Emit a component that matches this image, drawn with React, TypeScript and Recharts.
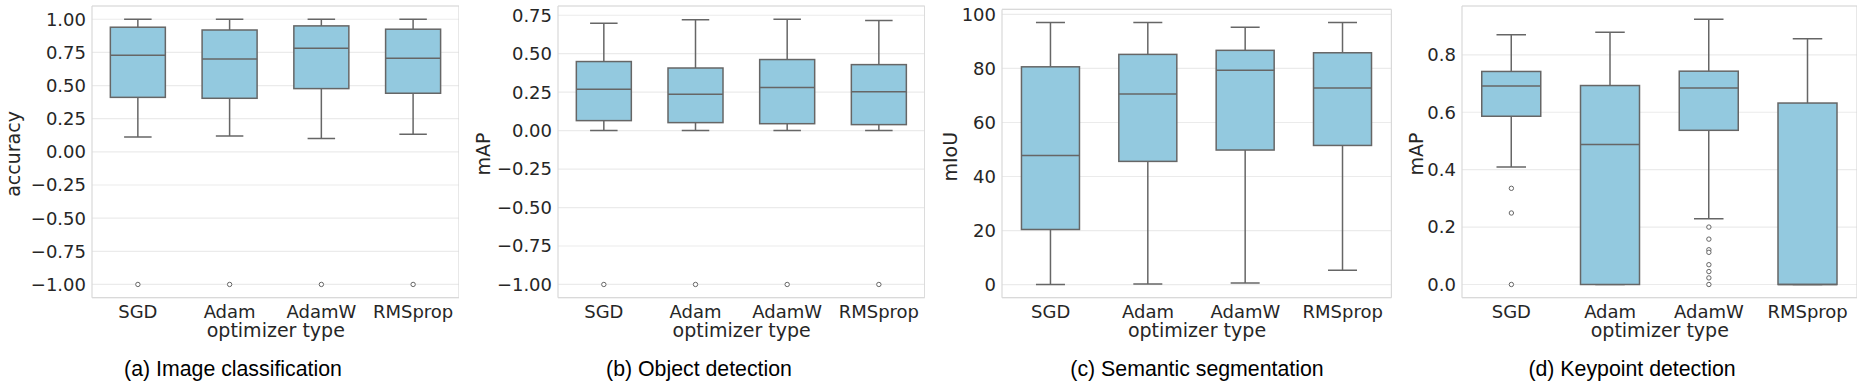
import React from "react";
import { ComposedChart, Bar, Line, XAxis, YAxis, CartesianGrid } from "recharts";

const optimizers = ["SGD", "Adam", "AdamW", "RMSprop"];

// (a) image classification – accuracy
const clsLow = [0.112, 0.119, 0.1, 0.132];
const clsQ1 = [0.411, 0.404, 0.477, 0.442];
const clsMedian = [0.728, 0.7, 0.781, 0.706];
const clsQ3 = [0.94, 0.919, 0.95, 0.925];
const clsHigh = [1.0, 1.0, 1.0, 1.0];
const clsOutliers = [[-1], [-1], [-1], [-1]];
const clsTicks = [-1, -0.75, -0.5, -0.25, 0, 0.25, 0.5, 0.75, 1];

// (b) object detection – mAP
const detLow = [0, 0, 0, 0];
const detQ1 = [0.065, 0.052, 0.045, 0.039];
const detMedian = [0.269, 0.236, 0.281, 0.253];
const detQ3 = [0.449, 0.407, 0.462, 0.429];
const detHigh = [0.698, 0.72, 0.724, 0.715];
const detOutliers = [[-1], [-1], [-1], [-1]];
const detTicks = [-1, -0.75, -0.5, -0.25, 0, 0.25, 0.5, 0.75];

// (c) semantic segmentation – mIoU
const segLow = [0, 0.25, 0.6, 5.3];
const segQ1 = [20.4, 45.6, 49.8, 51.5];
const segMedian = [47.8, 70.5, 79.3, 72.8];
const segQ3 = [80.6, 85.2, 86.7, 85.8];
const segHigh = [97, 97, 95.2, 97];
const segOutliers: number[][] = [[], [], [], []];
const segTicks = [0, 20, 40, 60, 80, 100];

// (d) keypoint detection – mAP
const kpLow = [0.409, 0, 0.229, 0];
const kpQ1 = [0.586, 0, 0.537, 0];
const kpMedian = [0.691, 0.488, 0.684, 0];
const kpQ3 = [0.742, 0.693, 0.743, 0.632];
const kpHigh = [0.87, 0.879, 0.924, 0.856];
const kpOutliers = [
  [0.335, 0.249, 0],
  [],
  [0.2, 0.158, 0.121, 0.112, 0.069, 0.045, 0.023, 0],
  [],
];
const kpTicks = [0, 0.2, 0.4, 0.6, 0.8];

const FILL = "#93c9df";
const LINE = "#666666";
const TEXT = "#262626";
const TICK_FONT = "'DejaVu Sans', sans-serif";

function buildRows(lo: number[], q1: number[], med: number[], q3: number[], hi: number[], out: number[][]) {
  return optimizers.map((name, i) => {
    const row: Record<string, any> = { name, lo: lo[i], q1: q1[i], med: med[i], q3: q3[i], hi: hi[i] };
    out[i].forEach((v, j) => (row["o" + j] = v));
    return row;
  });
}

function BoxShape(props: any) {
  const { x, y, width, height, payload } = props;
  if (x == null || y == null || !payload) return <g />;
  const top = Math.min(y, y + height);
  const bot = Math.max(y, y + height);
  const { lo, q1, med, q3, hi } = payload;
  // linear position inside the whisker range given by the bar
  const py = (v: number) => (hi === lo ? top : top + ((hi - v) / (hi - lo)) * (bot - top));
  const cx = x + width / 2;
  const cap = width / 4;
  const s = { stroke: LINE, strokeWidth: 1.5 };
  return (
    <g>
      <line x1={cx} x2={cx} y1={py(hi)} y2={py(q3)} {...s} />
      <line x1={cx} x2={cx} y1={py(q1)} y2={py(lo)} {...s} />
      <line x1={cx - cap} x2={cx + cap} y1={py(hi)} y2={py(hi)} {...s} />
      <line x1={cx - cap} x2={cx + cap} y1={py(lo)} y2={py(lo)} {...s} />
      <rect x={x} y={py(q3)} width={width} height={Math.max(py(q1) - py(q3), 0)} fill={FILL} {...s} />
      <line x1={x} x2={x + width} y1={py(med)} y2={py(med)} {...s} />
    </g>
  );
}

interface PanelProps {
  rows: Record<string, any>[];
  outlierCount: number;
  domain: [number, number];
  ticks: number[];
  digits: number;
  left: number;
  right: number;
  top: number;
  bottom: number;
}

const fmt = (digits: number) => (v: number) => {
  const s = Math.abs(v).toFixed(digits);
  return v < 0 ? "\u2212" + s : s;
};

function BoxPanel({ rows, outlierCount, domain, ticks, digits, left, right, top, bottom }: PanelProps) {
  const axisW = 60;
  const xAxisH = 30;
  const chartLeft = left - axisW;
  const width = right - chartLeft;
  return (
    <div style={{ position: "absolute", left: chartLeft, top: 0 }}>
      <ComposedChart
        width={width}
        height={390}
        data={rows}
        margin={{ top, right: 0, bottom: 390 - bottom - xAxisH, left: 0 }}
        barCategoryGap="20%"
      >
        <CartesianGrid vertical={false} stroke="#ebebeb" strokeWidth={1.2} />
        <CartesianGrid
          stroke="#d9d9d9"
          strokeWidth={1.2}
          horizontalCoordinatesGenerator={({ offset }: any) => [offset.top, offset.top + offset.height]}
          verticalCoordinatesGenerator={({ offset }: any) => [offset.left, offset.left + offset.width]}
        />
        <XAxis
          dataKey="name"
          type="category"
          interval={0}
          tickLine={false}
          axisLine={false}
          tickSize={0}
          tickMargin={7.5}
          height={xAxisH}
          tick={{ fontSize: 18, fill: TEXT, fontFamily: TICK_FONT }}
        />
        <YAxis
          type="number"
          domain={domain}
          ticks={ticks}
          allowDataOverflow
          width={axisW}
          tickLine={false}
          axisLine={false}
          tickSize={0}
          tickMargin={6}
          tickFormatter={fmt(digits)}
          tick={{ fontSize: 18, fill: TEXT, fontFamily: TICK_FONT }}
        />
        <Bar dataKey={(d: any) => [d.lo, d.hi]} shape={BoxShape} isAnimationActive={false} />
        {Array.from({ length: outlierCount }, (_, j) => (
          <Line
            key={j}
            dataKey={"o" + j}
            stroke="none"
            dot={{ r: 2.2, fill: "#ffffff", stroke: LINE, strokeWidth: 1 }}
            activeDot={false}
            isAnimationActive={false}
            legendType="none"
          />
        ))}
      </ComposedChart>
    </div>
  );
}

const maxLen = (o: number[][]) => Math.max(0, ...o.map((a) => a.length));

export default function App() {
  const panels = [
    { rows: buildRows(clsLow, clsQ1, clsMedian, clsQ3, clsHigh, clsOutliers), n: maxLen(clsOutliers), domain: [-1.1, 1.1] as [number, number], ticks: clsTicks, digits: 2, left: 92.3, right: 459.3, top: 6, ylabel: "accuracy", yx: 20.4, yy: 154, caption: "(a) Image classification", capX: 233 },
    { rows: buildRows(detLow, detQ1, detMedian, detQ3, detHigh, detOutliers), n: maxLen(detOutliers), domain: [-1.086, 0.81] as [number, number], ticks: detTicks, digits: 2, left: 558.3, right: 925, top: 6, ylabel: "mAP", yx: 490, yy: 154, caption: "(b) Object detection", capX: 699 },
    { rows: buildRows(segLow, segQ1, segMedian, segQ3, segHigh, segOutliers), n: maxLen(segOutliers), domain: [-4.85, 101.85] as [number, number], ticks: segTicks, digits: 0, left: 1002.3, right: 1391.7, top: 9.4, ylabel: "mIoU", yx: 956.7, yy: 156.7, caption: "(c) Semantic segmentation", capX: 1197 },
    { rows: buildRows(kpLow, kpQ1, kpMedian, kpQ3, kpHigh, kpOutliers), n: maxLen(kpOutliers), domain: [-0.046, 0.97] as [number, number], ticks: kpTicks, digits: 1, left: 1462.3, right: 1857.3, top: 6, ylabel: "mAP", yx: 1423, yy: 154, caption: "(d) Keypoint detection", capX: 1632 },
  ];
  const bottom = 297.7;
  return (
    <div style={{ position: "absolute", left: 0, top: 0, width: 1865, height: 390, background: "#ffffff", overflow: "hidden" }}>
      {panels.map((p, i) => (
        <BoxPanel
          key={i}
          rows={p.rows}
          outlierCount={p.n}
          domain={p.domain}
          ticks={p.ticks}
          digits={p.digits}
          left={p.left}
          right={p.right}
          top={p.top}
          bottom={bottom}
        />
      ))}
      <svg width={1865} height={390} style={{ position: "absolute", left: 0, top: 0, pointerEvents: "none" }}>
        {panels.map((p, i) => (
          <g key={i}>
            <text
              x={p.yx}
              y={p.yy}
              transform={`rotate(-90 ${p.yx} ${p.yy})`}
              textAnchor="middle"
              fontSize={19}
              fill={TEXT}
              fontFamily={TICK_FONT}
            >
              {p.ylabel}
            </text>
            <text x={(p.left + p.right) / 2} y={337} textAnchor="middle" fontSize={19} fill={TEXT} fontFamily={TICK_FONT}>
              optimizer type
            </text>
            <text x={p.capX} y={376} textAnchor="middle" fontSize={21.3} fill="#000000" fontFamily="'Liberation Sans', Arial, sans-serif">
              {p.caption}
            </text>
          </g>
        ))}
      </svg>
    </div>
  );
}
